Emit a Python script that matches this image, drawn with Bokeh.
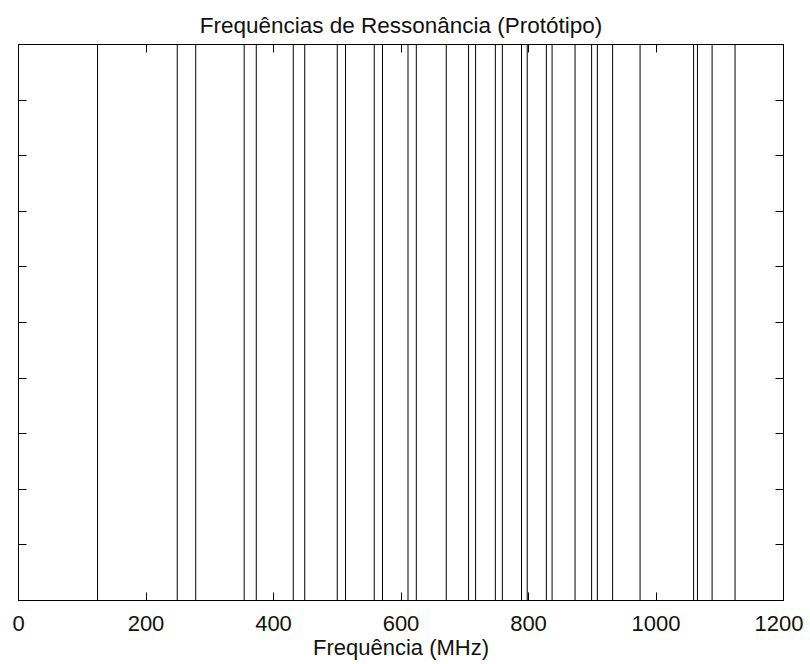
from bokeh.plotting import figure
from bokeh.models import Range1d, LinearAxis, FixedTicker
from bokeh.embed import file_html
from bokeh.resources import INLINE

# Resonance frequencies (MHz)
freqs_mhz = [124, 249, 278, 354, 373, 431, 449, 500, 513, 558, 571, 611, 624,
             671, 706, 717, 748, 759, 789, 798, 828, 837, 873, 899, 908, 932,
             975, 1059, 1065, 1088, 1124]
x_ticks = [0, 200, 400, 600, 800, 1000, 1200]
y_ticks = [0, 0.1, 0.2, 0.3, 0.4, 0.5, 0.6, 0.7, 0.8, 0.9, 1.0]
title_text = "Frequências de Ressonância (Protótipo)"
x_label = "Frequência (MHz)"

FONT = "Liberation Sans"
y_lo, y_hi = 0, 1

p = figure(frame_width=765, frame_height=556,
           x_range=Range1d(0, 1200), y_range=Range1d(y_lo, y_hi),
           output_backend="svg", toolbar_location=None,
           min_border_left=18, min_border_right=20, min_border_top=44,
           min_border_bottom=0, x_axis_location=None, y_axis_location=None)

p.background_fill_color = "white"
p.border_fill_color = "white"
p.outline_line_color = "black"
p.outline_line_width = 1
p.xgrid.visible = False
p.ygrid.visible = False

p.title.text = title_text
p.title.align = "center"
p.title.text_font = FONT
p.title.text_font_size = "22.5px"
p.title.text_font_style = "normal"
p.title.text_color = "#111111"
p.title.standoff = 14


def style_axis(ax, labels):
    ax.axis_line_color = "black"
    ax.major_tick_line_color = "black"
    ax.major_tick_in = 8
    ax.major_tick_out = 0
    ax.minor_tick_line_color = None
    if labels:
        ax.major_label_text_font = FONT
        ax.major_label_text_font_size = "22px"
        ax.major_label_text_color = "#111111"
        ax.major_label_standoff = 15
        ax.axis_label_text_font = FONT
        ax.axis_label_text_font_size = "22px"
        ax.axis_label_text_font_style = "normal"
        ax.axis_label_text_color = "#111111"
        ax.axis_label_standoff = 1
    else:
        ax.major_label_text_color = None
        ax.major_label_text_font_size = "1px"
        ax.major_label_standoff = 0


xb = LinearAxis(ticker=FixedTicker(ticks=x_ticks), axis_label=x_label)
style_axis(xb, True)
p.add_layout(xb, "below")

xt = LinearAxis(ticker=FixedTicker(ticks=x_ticks))
style_axis(xt, False)
p.add_layout(xt, "above")

yl = LinearAxis(ticker=FixedTicker(ticks=y_ticks))
style_axis(yl, False)
p.add_layout(yl, "left")

yr = LinearAxis(ticker=FixedTicker(ticks=y_ticks))
style_axis(yr, False)
p.add_layout(yr, "right")

p.segment(x0=freqs_mhz, x1=freqs_mhz, y0=y_lo, y1=y_hi,
          line_color="black", line_width=1)

open("out.html", "w").write(file_html(p, INLINE))
